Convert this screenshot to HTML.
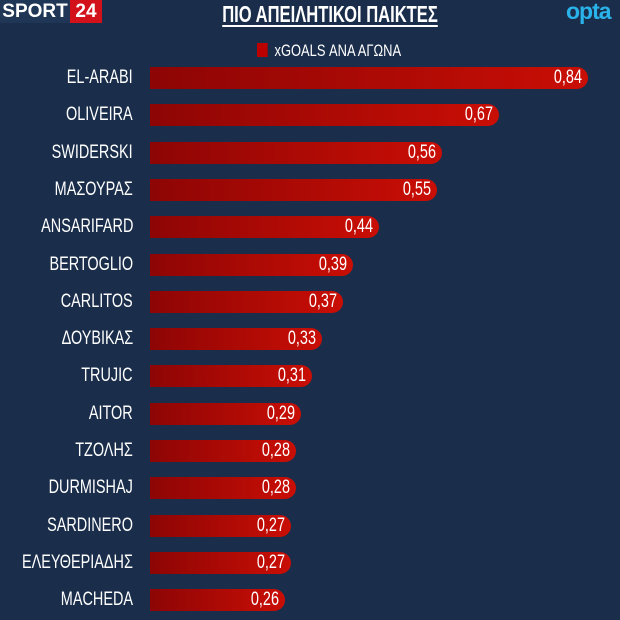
<!DOCTYPE html>
<html><head><meta charset="utf-8"><style>
body{margin:0;width:620px;height:620px;background:#1a2e4b;overflow:hidden;position:relative;font-family:"Liberation Sans","DejaVu Sans",sans-serif;color:#fff}
.hdr{position:absolute;top:0;height:23px;font-weight:bold;font-size:19px;line-height:23px}
.s{left:0;width:70px;background:#1f3656;text-align:center}
.n{left:70px;width:32px;background:#d3111b;text-align:center}
.t{position:absolute;left:160px;width:340px;top:1px;text-align:center;font-weight:bold;font-size:23px;text-decoration:underline;text-underline-offset:3px;transform:scaleX(0.72)}
.o{position:absolute;left:566px;top:-2px;color:#2ab3e8;font-size:23px;font-weight:bold;letter-spacing:-1px}
.leg{position:absolute;left:257px;top:41px;font-size:17px;transform:scaleX(0.76);transform-origin:left}
.leg span{display:inline-block;width:14px;height:14px;background:#b00;margin-right:9px;vertical-align:-1px}
.lab{position:absolute;right:487px;font-size:19px;white-space:nowrap;transform:scaleX(0.76);transform-origin:right;line-height:22px}
.bar{position:absolute;left:150px;height:22px;border-radius:0 11px 11px 0;background:linear-gradient(90deg,#8d0505,#c90e05);font-size:19px;line-height:22px;text-align:right;box-sizing:border-box;padding-right:6px}
.bar i{font-style:normal;display:inline-block;transform:scaleX(0.76);transform-origin:right}
</style></head><body>
<div class="hdr s">SPORT</div><div class="hdr n">24</div>
<div class="t">ΠΙΟ ΑΠΕΙΛΗΤΙΚΟΙ ΠΑΙΚΤΕΣ</div>
<div class="o">opta</div>
<div class="leg"><span></span>xGOALS ΑΝΑ ΑΓΩΝΑ</div>
<div id="c"></div>
<script>
var d=[["EL-ARABI",.84],["OLIVEIRA",.67],["SWIDERSKI",.56],["ΜΑΣΟΥΡΑΣ",.55],["ANSARIFARD",.44],["BERTOGLIO",.39],["CARLITOS",.37],["ΔΟΥΒΙΚΑΣ",.33],["TRUJIC",.31],["AITOR",.29],["ΤΖΟΛΗΣ",.28],["DURMISHAJ",.28],["SARDINERO",.27],["ΕΛΕΥΘΕΡΙΑΔΗΣ",.27],["MACHEDA",.26]];
var h="";d.forEach(function(r,i){var y=Math.round(67+37.3*i);var w=Math.round(r[1]*521);
h+='<div class="lab" style="top:'+y+'px">'+r[0]+'</div><div class="bar" style="top:'+y+'px;width:'+w+'px"><i>'+r[1].toFixed(2).replace(".",",")+'</i></div>';});
document.getElementById("c").innerHTML=h;
</script>
</body></html>
